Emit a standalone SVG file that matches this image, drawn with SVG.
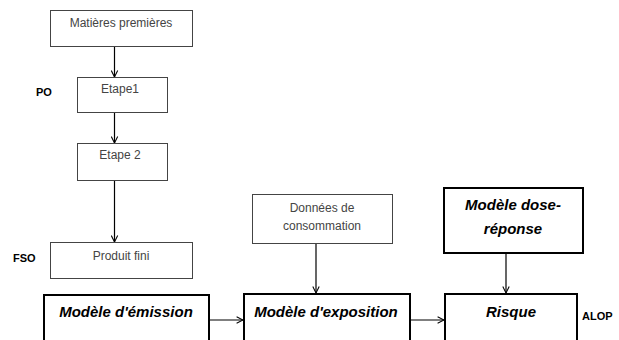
<svg xmlns="http://www.w3.org/2000/svg" width="619" height="340" viewBox="0 0 619 340">
  <style>
    .box { fill: #fff; stroke: #444; stroke-width: 1; }
    .bold { fill: #fff; stroke: #000; stroke-width: 2; }
    .lbl { font-family: "Liberation Sans", Arial, sans-serif; font-size: 12px; fill: #444; text-anchor: middle; }
    .big { font-family: "Liberation Sans", Arial, sans-serif; font-size: 15px; font-weight: bold; font-style: italic; fill: #000; text-anchor: middle; }
    .side { font-family: "Liberation Sans", Arial, sans-serif; font-size: 11px; font-weight: bold; fill: #000; }
    .line { stroke: #000; stroke-width: 1.2; fill: none; }
  </style>
  <defs>
    <marker id="vee" viewBox="0 0 10 10" refX="9" refY="5" markerWidth="8" markerHeight="8" orient="auto" markerUnits="userSpaceOnUse">
      <path d="M1,1 L9,5 L1,9" fill="none" stroke="#000" stroke-width="1.3"/>
    </marker>
  </defs>
  <rect width="619" height="340" fill="#fff"/>

  <g id="connectors">
    <line class="line" x1="114.5" y1="46" x2="114.5" y2="77" marker-end="url(#vee)"/>
    <line class="line" x1="114.5" y1="112" x2="114.5" y2="143" marker-end="url(#vee)"/>
    <line class="line" x1="114.5" y1="180" x2="114.5" y2="242" marker-end="url(#vee)"/>
    <line class="line" x1="316" y1="243" x2="316" y2="293" marker-end="url(#vee)"/>
    <line class="line" x1="506" y1="253" x2="506" y2="293" marker-end="url(#vee)"/>
    <line class="line" x1="210" y1="320" x2="243" y2="320" marker-end="url(#vee)"/>
    <line class="line" x1="411" y1="320" x2="444" y2="320" marker-end="url(#vee)"/>
  </g>

  <g id="matieres">
    <rect class="box" x="50.5" y="10.5" width="142" height="36"/>
    <text class="lbl" x="121" y="27">Matières premières</text>
  </g>
  <g id="etape1">
    <rect class="box" x="77.5" y="77.5" width="90" height="35"/>
    <text class="lbl" x="120" y="93">Etape1</text>
  </g>
  <g id="po">
    <text class="side" x="36" y="96">PO</text>
  </g>
  <g id="etape2">
    <rect class="box" x="77.5" y="143.5" width="90" height="37"/>
    <text class="lbl" x="120" y="159">Etape 2</text>
  </g>
  <g id="produit">
    <rect class="box" x="50.5" y="242.5" width="142" height="36"/>
    <text class="lbl" x="121" y="260">Produit fini</text>
  </g>
  <g id="fso">
    <text class="side" x="13" y="262">FSO</text>
  </g>
  <g id="donnees">
    <rect class="box" x="252.5" y="194.5" width="140" height="49"/>
    <text class="lbl" x="322" y="212">Données de</text>
    <text class="lbl" x="322" y="230">consommation</text>
  </g>
  <g id="dose">
    <rect class="bold" x="444" y="188" width="139" height="65"/>
    <text class="big" x="513" y="210">Modèle dose-</text>
    <text class="big" x="513" y="234">réponse</text>
  </g>
  <g id="emission">
    <rect class="bold" x="44" y="295" width="165" height="60"/>
    <text class="big" x="126" y="317">Modèle d'émission</text>
  </g>
  <g id="exposition">
    <rect class="bold" x="244" y="294" width="166" height="60"/>
    <text class="big" x="326" y="317">Modèle d'exposition</text>
  </g>
  <g id="risque">
    <rect class="bold" x="445" y="294" width="132" height="60"/>
    <text class="big" x="511" y="317">Risque</text>
  </g>
  <g id="alop">
    <text class="side" x="582" y="320">ALOP</text>
  </g>
</svg>
